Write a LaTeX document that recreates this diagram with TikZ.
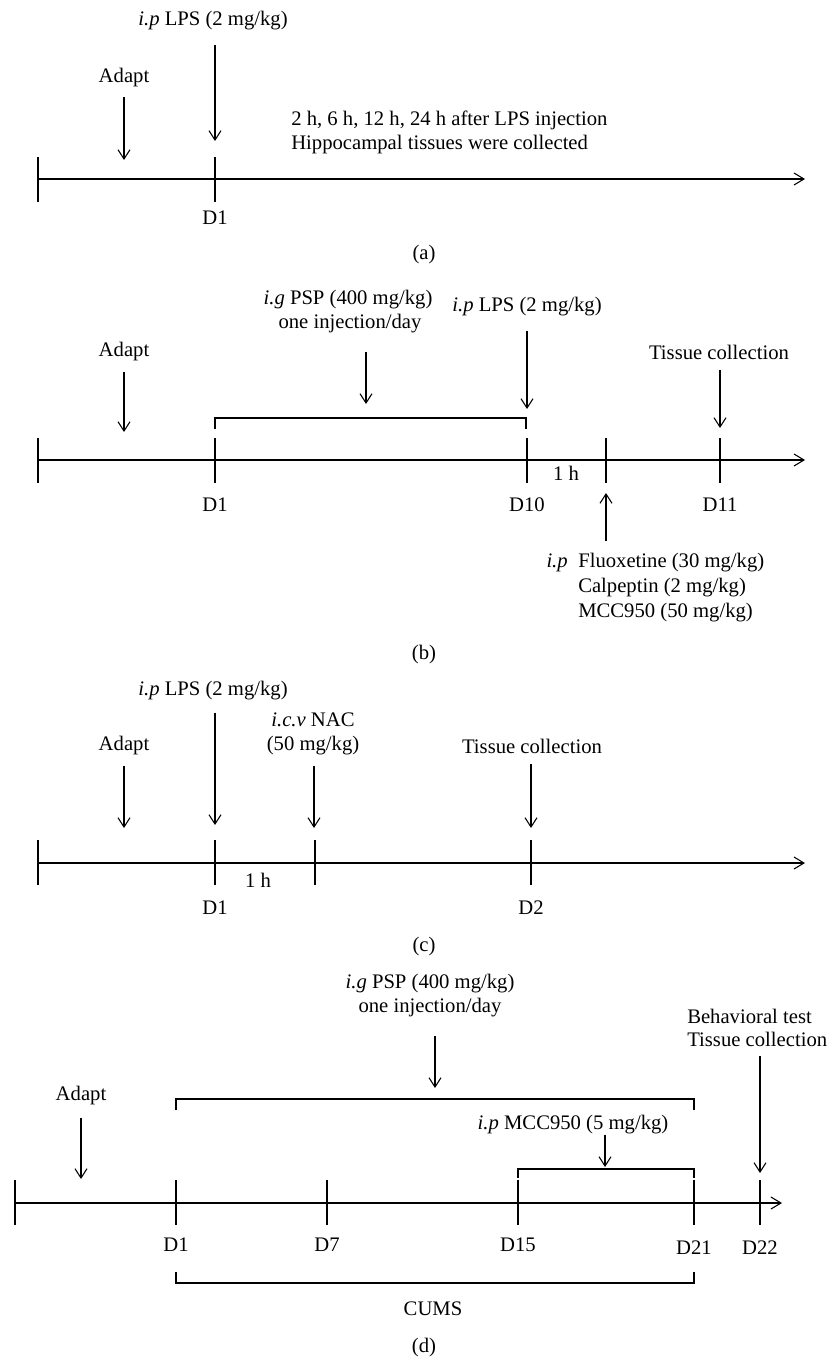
\documentclass[tikz,border=0pt]{standalone}
\usepackage{fontspec}
\setmainfont{Liberation Serif}
\usetikzlibrary{arrows.meta}

\begin{document}
\begin{tikzpicture}[x=0.75pt,y=-0.75pt,
  lbl/.style={font=\fontsize{15.5}{18}\selectfont,inner sep=0pt},
  tl/.style={line width=0.8pt},
  pt/.style={line width=0.8pt,-{Straight Barb[length=7pt,width=9pt]}},
  ax/.style={line width=0.8pt,-{Straight Barb[length=7.5pt,width=9pt]}}]
\useasboundingbox (0,0) rectangle (831,1358);

% (a)
\draw[ax] (38,179) coordinate (a0) -- (805,179) coordinate (aE);
\foreach \x in {38,215} \draw[tl] (\x,157) -- (\x,202);
\node[lbl] (aLPS) at (213,21) {\textit{i.p} LPS (2 mg/kg)};
\node[lbl] (aAdapt) at (124,78) {Adapt};
\node[lbl,anchor=west] (aHrs) at (291,120) {2 h, 6 h, 12 h, 24 h after LPS injection};
\node[lbl,anchor=west] (aHip) at (291,145) {Hippocampal tissues were collected};
\node[lbl] (aD1) at (215,218) {D1};
\node[lbl] (aCap) at (424,255) {(a)};
\coordinate (aAdaptT) at (124,160);
\coordinate (aLPST) at (215,141);
\draw[pt,shorten <=7pt] (aAdapt.south -| aAdaptT) -- (aAdaptT);
\draw[pt,shorten <=11pt] (aLPS.south -| aLPST) -- (aLPST);

% (b)
\draw[ax] (38,460) coordinate (b0) -- (805,460) coordinate (bE);
\foreach \x in {38,215,527,606,720} \draw[tl] (\x,438) -- (\x,483);
\draw[tl] (215,429) -- (215,418) -- (526,418) -- (526,429);
\node[lbl] (bPSP) at (348,300) {\textit{i.g} PSP (400 mg/kg)};
\node[lbl] (bDay) at (350,324) {one injection/day};
\node[lbl] (bLPS) at (527,307) {\textit{i.p} LPS (2 mg/kg)};
\node[lbl] (bAdapt) at (124,352) {Adapt};
\node[lbl] (bTis) at (719,352) {Tissue collection};
\node[lbl] (bHr) at (566,473) {1 h};
\node[lbl] (bD1) at (215,505) {D1};
\node[lbl] (bD10) at (527,505) {D10};
\node[lbl] (bD11) at (720,505) {D11};
\node[lbl,anchor=west] (bFlu) at (578,563) {Fluoxetine (30 mg/kg)};
\node[lbl,anchor=east] (bIP) at (568,563) {\textit{i.p}};
\node[lbl,anchor=west] (bCal) at (578,588) {Calpeptin (2 mg/kg)};
\node[lbl,anchor=west] (bMCC) at (578,613) {MCC950 (50 mg/kg)};
\node[lbl] (bCap) at (424,655) {(b)};
\coordinate (bAdaptT) at (124,432);
\coordinate (bPSPT) at (366,404);
\coordinate (bLPST) at (527,409);
\coordinate (bTisT) at (720,428);
\coordinate (bInjT) at (606,493);
\draw[pt,shorten <=14pt] (bDay.south -| bPSPT) -- (bPSPT);
\draw[pt,shorten <=8pt] (bAdapt.south -| bAdaptT) -- (bAdaptT);
\draw[pt,shorten <=11pt] (bLPS.south -| bLPST) -- (bLPST);
\draw[pt,shorten <=8pt] (bTis.south -| bTisT) -- (bTisT);
\draw[pt,shorten <=9pt] (bFlu.north -| bInjT) -- (bInjT);

% (c)
\draw[ax] (38,863) coordinate (c0) -- (805,863) coordinate (cE);
\foreach \x in {38,215,315,531} \draw[tl] (\x,840) -- (\x,885);
\node[lbl] (cLPS) at (213,691) {\textit{i.p} LPS (2 mg/kg)};
\node[lbl] (cNAC) at (313,720) {\textit{i.c.v} NAC};
\node[lbl] (cDose) at (313,746) {(50 mg/kg)};
\node[lbl] (cAdapt) at (124,746) {Adapt};
\node[lbl] (cTis) at (532,746) {Tissue collection};
\node[lbl] (cHr) at (258,880) {1 h};
\node[lbl] (cD1) at (215,908) {D1};
\node[lbl] (cD2) at (531,908) {D2};
\node[lbl] (cCap) at (424,947) {(c)};
\coordinate (cAdaptT) at (124,828);
\coordinate (cLPST) at (215,825);
\coordinate (cNACT) at (314,828);
\coordinate (cTisT) at (531,828);
\draw[pt,shorten <=8pt] (cAdapt.south -| cAdaptT) -- (cAdaptT);
\draw[pt,shorten <=9pt] (cLPS.south -| cLPST) -- (cLPST);
\draw[pt,shorten <=8pt] (cDose.south -| cNACT) -- (cNACT);
\draw[pt,shorten <=8pt] (cTis.south -| cTisT) -- (cTisT);

% (d)
\draw[ax] (15,1203) coordinate (d0) -- (782,1203) coordinate (dE);
\foreach \x in {15,176,327,518,694,760} \draw[tl] (\x,1180) -- (\x,1225);
\draw[tl] (176,1110) -- (176,1099) -- (694,1099) -- (694,1110);
\draw[tl] (518,1178) -- (518,1169) -- (694,1169) -- (694,1178);
\draw[tl] (176,1272) -- (176,1283) -- (694,1283) -- (694,1272);
\node[lbl] (dPSP) at (430,984) {\textit{i.g} PSP (400 mg/kg)};
\node[lbl] (dDay) at (430,1008) {one injection/day};
\node[lbl,anchor=west] (dBeh) at (687,1016) {Behavioral test};
\node[lbl,anchor=west] (dTis) at (687,1039) {Tissue collection};
\node[lbl] (dAdapt) at (81,1096) {Adapt};
\node[lbl] (dMCC) at (573,1125) {\textit{i.p} MCC950 (5 mg/kg)};
\node[lbl] (dD1) at (176,1245) {D1};
\node[lbl] (dD7) at (327,1245) {D7};
\node[lbl] (dD15) at (518,1245) {D15};
\node[lbl] (dD21) at (694,1248) {D21};
\node[lbl] (dD22) at (760,1248) {D22};
\node[lbl] (dCUMS) at (433,1309) {CUMS};
\node[lbl] (dCap) at (424,1348) {(d)};
\coordinate (dPSPT) at (435,1088);
\coordinate (dAdaptT) at (81,1179);
\coordinate (dMCCT) at (605,1167);
\coordinate (dTisT) at (760,1173);
\draw[pt,shorten <=14pt] (dDay.south -| dPSPT) -- (dPSPT);
\draw[pt,shorten <=9pt] (dAdapt.south -| dAdaptT) -- (dAdaptT);
\draw[pt,shorten <=0pt] (dMCC.south -| dMCCT) -- (dMCCT);
\draw[pt,shorten <=7pt] (dTis.south -| dTisT) -- (dTisT);
\end{tikzpicture}
\end{document}
